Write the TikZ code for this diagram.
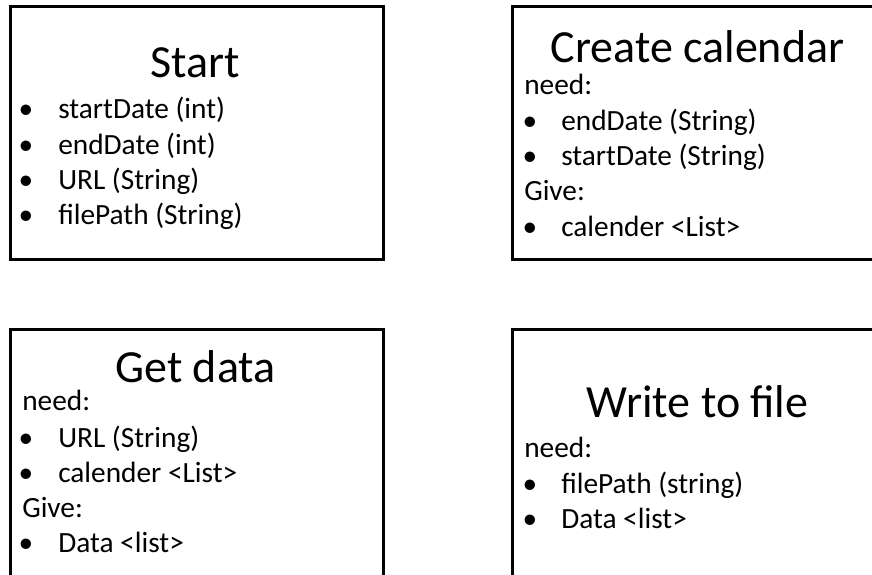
\documentclass[tikz,border=0pt]{standalone}
\usepackage{fontspec}
\setmainfont{Carlito}
\begin{document}
\begin{tikzpicture}[x=0.75pt,y=-0.75pt,
  box/.style={draw=black,line width=2.2pt,minimum width=280pt,minimum height=190pt,inner sep=0pt,anchor=north west},
  title/.style={anchor=base,inner sep=0pt,font=\fontsize{34.5}{40}\selectfont},
  txt/.style={anchor=base west,inner sep=0pt,font=\fontsize{22}{26}\selectfont},
  dot/.style={anchor=base,inner sep=0pt,font=\fontsize{22}{26}\selectfont}]
\useasboundingbox (0,0) rectangle (872,575);
\fill[white] (0,0) rectangle (872,575);

% boxes
\node[box] (start) at (9,5) {};
\node[box] (cal) at (511,5) {};
\node[box] (get) at (9,328) {};
\node[box] (write) at (511,328) {};

% Start
\node[title] (start-t) at (195.5,77) {Start};
\node[dot] (start-b1) at (26,118) {\textbullet};
\node[txt] (start-1) at (58,118) {startDate (int)};
\node[dot] (start-b2) at (26,154) {\textbullet};
\node[txt] (start-2) at (58,154) {endDate (int)};
\node[dot] (start-b3) at (26,189) {\textbullet};
\node[txt] (start-3) at (58,189) {URL (String)};
\node[dot] (start-b4) at (26,224) {\textbullet};
\node[txt] (start-4) at (58,224) {filePath (String)};

% Create calendar
\node[title] (cal-t) at (697.5,62) {Create calendar};
\node[txt] (cal-n) at (524,94) {need:};
\node[dot] (cal-b1) at (530,130) {\textbullet};
\node[txt] (cal-1) at (561,130) {endDate (String)};
\node[dot] (cal-b2) at (530,165) {\textbullet};
\node[txt] (cal-2) at (561,165) {startDate (String)};
\node[txt] (cal-g) at (524,200) {Give:};
\node[dot] (cal-b3) at (530,236) {\textbullet};
\node[txt] (cal-3) at (561,236) {calender <List>};

% Get data
\node[title] (get-t) at (195.5,382) {Get data};
\node[txt] (get-n) at (22,410) {need:};
\node[dot] (get-b1) at (26,447) {\textbullet};
\node[txt] (get-1) at (58,447) {URL (String)};
\node[dot] (get-b2) at (26,482) {\textbullet};
\node[txt] (get-2) at (58,482) {calender <List>};
\node[txt] (get-g) at (22,517) {Give:};
\node[dot] (get-b3) at (26,552) {\textbullet};
\node[txt] (get-3) at (58,552) {Data <list>};

% Write to file
\node[title] (write-t) at (697.5,417) {Write to file};
\node[txt] (write-n) at (524,457) {need:};
\node[dot] (write-b1) at (530,493) {\textbullet};
\node[txt] (write-1) at (561,493) {filePath (string)};
\node[dot] (write-b2) at (530,528) {\textbullet};
\node[txt] (write-2) at (561,528) {Data <list>};
\end{tikzpicture}
\end{document}
